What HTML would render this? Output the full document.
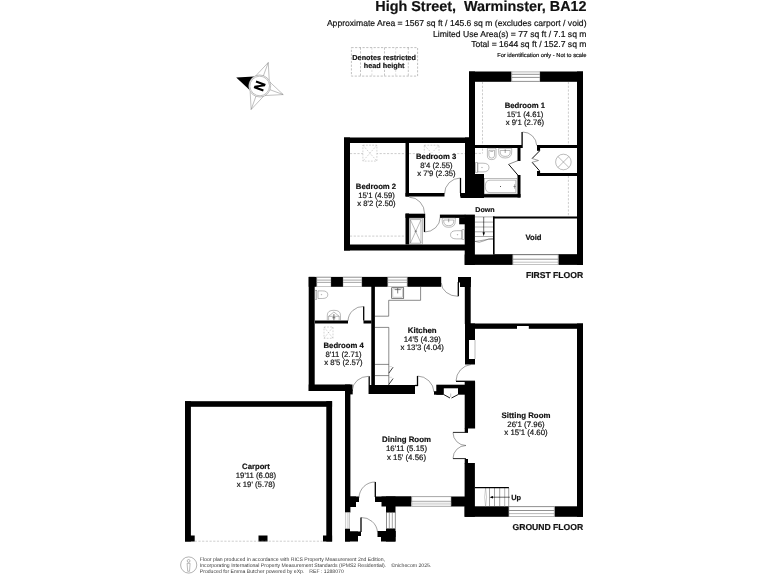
<!DOCTYPE html>
<html>
<head>
<meta charset="utf-8">
<title>High Street, Warminster, BA12 - Floor Plan</title>
<style>
html,body{margin:0;padding:0;background:#fff;width:768px;height:576px;overflow:hidden}
svg{display:block;position:absolute;left:0;top:0;will-change:transform}
text{font-family:"Liberation Sans",sans-serif;fill:#111;text-rendering:geometricPrecision;stroke:#111;stroke-width:0.18px}
.b{font-weight:bold}
.lab{font-size:7.72px;text-anchor:middle}
.w{fill:#000}
.t{fill:none;stroke:#6a6a6a;stroke-width:0.45}
.d{fill:none;stroke:#9a9a9a;stroke-width:0.5;stroke-dasharray:2.2 1.5}
.door{fill:none;stroke:#3a3a3a;stroke-width:0.48}
.leaf{fill:none;stroke:#000;stroke-width:1.3}
.win{fill:#fff;stroke:#444;stroke-width:0.6}
.wl{stroke:#666;stroke-width:0.6}
.bg{fill:#fff}
</style>
</head>
<body>
<svg width="768" height="576" viewBox="0 0 768 576">
<rect x="0" y="0" width="768" height="576" fill="#fff"/>

<!-- ================= HEADER ================= -->
<g id="header">
<text class="b" x="586.5" y="11" font-size="14.38" text-anchor="end" xml:space="preserve">High Street,  Warminster, BA12</text>
<text x="586.5" y="26" font-size="8.6" text-anchor="end">Approximate Area = 1567 sq ft / 145.6 sq m (excludes carport / void)</text>
<text x="586.5" y="36.5" font-size="8.6" text-anchor="end">Limited Use Area(s) = 77 sq ft / 7.1 sq m</text>
<text x="586.5" y="47" font-size="8.6" text-anchor="end">Total = 1644 sq ft / 152.7 sq m</text>
<text x="586.5" y="56.5" font-size="5.73" text-anchor="end">For identification only - Not to scale</text>
</g>

<!-- ================= LEGEND ================= -->
<g id="legend">
<rect class="d" x="351.400" y="47.600" width="66.200" height="28.500" style="stroke:#808080"/>
<path class="d" style="stroke:#8a8a8a" d="M360.500 47.600V76.100M384.500 47.600V76.100M408.300 47.600V76.100"/>
<path class="d" style="stroke:#bbb" d="M371.900 47.600V76.100M395.700 47.600V76.100"/>
<text class="b" x="384.200" y="60" font-size="7.250" text-anchor="middle">Denotes restricted</text>
<text class="b" x="384.200" y="68.200" font-size="7.250" text-anchor="middle">head height</text>
</g>

<!-- ================= COMPASS ================= -->
<g id="compass" transform="translate(259.7 86) rotate(-70)">
<g fill="#fff" stroke="#808080" stroke-width="0.45">
<path d="M0 -25L7.1 -8.4L-7.1 -8.4Z" transform="rotate(90)"/>
<path d="M0 -25L7.1 -8.4L-7.1 -8.4Z" transform="rotate(180)"/>
<path d="M0 -25L7.1 -8.4L-7.1 -8.4Z" transform="rotate(270)"/>
<path d="M0 -25V-10" transform="rotate(90)"/>
<path d="M0 -25V-10" transform="rotate(180)"/>
<path d="M0 -25V-10" transform="rotate(270)"/>
</g>
<path d="M0 -25L7.1 -8.4L-7.1 -8.4Z" fill="#000"/>
<circle r="11" fill="#fff" stroke="#808080" stroke-width="0.45"/>
<circle r="9.8" fill="#fff" stroke="#808080" stroke-width="0.45"/>
<path d="M-4 5V-5H-1.500L1.900 1.500V-5H4V5H1.500L-1.900 -1.500V5Z" fill="#000"/>
</g>

<!-- ================= FIRST FLOOR ================= -->
<g id="first-floor">
<!-- dashed restricted head height lines -->
<path class="d" d="M482.500 82V153.400M568.400 82V145M568.400 176V216.500M475 153.400H482.500"/>
<path class="d" d="M350 153.600H405.500M350 236.100H405.500M409 153.600H465"/>
<g style="stroke:#a0a0a0;stroke-width:0.45;stroke-dasharray:1.8 1.3"><rect class="d" x="362.900" y="145.200" width="14" height="15.900" style="fill:#fff;stroke:#a0a0a0;stroke-width:0.45;stroke-dasharray:1.8 1.3"/>
<path class="d" style="stroke:#a0a0a0;stroke-width:0.45;stroke-dasharray:1.8 1.3" d="M362.900 145.200L376.900 161.100M376.900 145.200L362.900 161.100"/></g>
<rect class="d" x="424.300" y="145.200" width="14.700" height="15.900" style="fill:#fff;stroke:#a0a0a0;stroke-width:0.45;stroke-dasharray:1.8 1.3"/>
<path class="d" style="stroke:#a0a0a0;stroke-width:0.45;stroke-dasharray:1.8 1.3" d="M424.300 145.200L439 161.100M439 145.200L424.300 161.100"/>

<!-- outer walls: bedroom 1 block -->
<rect class="w" x="469" y="71.500" width="42.600" height="10.300"/>
<rect class="w" x="539.900" y="71.500" width="43.100" height="10.300"/>
<rect class="w" x="469" y="71.500" width="6" height="66.500"/>
<rect class="w" x="465" y="137.5" width="10" height="60.5"/>
<rect class="w" x="464.700" y="214.600" width="10.200" height="50.300"/>
<rect class="w" x="577" y="71.500" width="6" height="193.400"/>
<rect class="w" x="464.700" y="254.500" width="48.100" height="10.400"/>
<rect class="w" x="558.300" y="254.500" width="24.700" height="10.400"/>
<!-- bedroom 1 bottom wall -->
<rect class="w" x="475" y="145" width="47" height="3"/>
<rect class="w" x="537" y="145" width="40" height="3"/>
<!-- bathroom walls -->
<rect class="w" x="517.5" y="148" width="3" height="13"/>
<rect class="w" x="517.5" y="175" width="3" height="22.5"/>
<rect class="w" x="475" y="194" width="45.5" height="3.5"/>
<rect class="w" x="465" y="174" width="19" height="24"/>
<rect class="w" x="460.5" y="194" width="5" height="4"/>
<!-- cupboard -->
<rect class="w" x="537" y="148" width="3.100" height="2.800"/>
<rect class="w" x="537" y="171" width="3.100" height="5"/>
<rect class="w" x="537" y="173" width="40" height="3"/>
<!-- void -->
<rect class="w" x="493" y="216.5" width="84" height="2"/>
<rect class="w" x="493" y="216.5" width="1.6" height="38"/>
<rect x="493" y="254" width="84" height="0.900" fill="#222"/>
<!-- left block -->
<rect class="w" x="344" y="137.5" width="125" height="5.5"/>
<rect class="w" x="344" y="137.5" width="6" height="113"/>
<rect class="w" x="344" y="244.5" width="121" height="6"/>
<rect class="w" x="405.5" y="143" width="3.5" height="53.5"/>
<rect class="w" x="405.5" y="193" width="39" height="3.5"/>
<rect class="w" x="460" y="193" width="5" height="3.5"/>
<rect class="w" x="405.5" y="213.700" width="19.700" height="4.200"/>
<rect class="w" x="405.5" y="213.5" width="3.5" height="31"/>
<rect class="w" x="439.900" y="214.600" width="25.500" height="3.300"/>
<rect class="w" x="459.200" y="217.500" width="6" height="6.800"/>

<!-- windows -->
<rect x="511.600" y="71.400" width="28.300" height="10.400" fill="#fff"/>
<path d="M511.600 71.900H539.900" stroke="#bbb" stroke-width="1.100"/>
<path d="M511.600 74.300H539.900M511.600 77.400H539.900M511.600 81.400H539.900" stroke="#555" stroke-width="0.650"/>
<path d="M511.800 71.400V81.800M539.700 71.400V81.800" stroke="#888" stroke-width="0.400"/>
<rect x="512.800" y="254.400" width="45.500" height="10.500" fill="#fff"/>
<path d="M512.800 254.700H558.300M512.800 259.200H558.300" stroke="#555" stroke-width="0.650"/>
<path d="M512.800 262.200H558.300M512.800 264.500H558.300" stroke="#999" stroke-width="0.600"/>
<path d="M513 254.400V264.900M558.100 254.400V264.900" stroke="#888" stroke-width="0.400"/>

<!-- doors -->
<path class="leaf" d="M522.100 148V132"/>
<path class="door" d="M522.700 132A14 14 0 0 1 536.700 145.500"/>
<path class="leaf" d="M460.5 193V178"/>
<path class="door" d="M460.5 178A16 16 0 0 0 444.5 194"/>
<path class="door" d="M409.300 197.200A15.500 16.500 0 0 1 424.600 213.700"/>
<path class="leaf" d="M424.500 217.500V232"/>
<path class="door" d="M440.100 217.500A15.600 14.500 0 0 1 424.500 232"/>
<!-- bathroom door (open) -->
<path d="M508.600 164.300L518.800 176.200" fill="none" stroke="#000" stroke-width="0.950"/>
<path d="M508.600 164.300L518.500 160.400" fill="none" stroke="#333" stroke-width="0.550"/>
<!-- cupboard bifold -->
<path d="M539.600 150.900L532.100 158.500M532.100 162.300L539.600 170.900" fill="none" stroke="#000" stroke-width="0.950"/>
<path d="M532.100 158.500L538.500 160.500L532.100 162.300" fill="none" stroke="#444" stroke-width="0.500"/>

<!-- cylinder -->
<circle class="t" cx="563.400" cy="162" r="7.800" fill="#fff"/>
<path class="t" d="M557.900 156.500L568.900 167.500M568.900 156.500L557.900 167.500"/>

<!-- bathroom fixtures -->
<g class="t">
<!-- bidet -->
<path d="M487.400 148.300H496V156Q496 159.600 491.700 159.600Q487.400 159.600 487.400 156Z"/>
<path d="M488.900 150.300H494.500V155.500Q494.500 158.100 491.700 158.100Q488.900 158.100 488.900 155.500Z"/>
<path d="M490.300 151.500H493.100" />
<!-- basin -->
<path d="M498.700 148.300H511.700V152Q511.700 158 505.200 158Q498.700 158 498.700 152Z"/>
<path d="M500.200 150.500H510.200V152Q510.200 156.400 505.200 156.400Q500.200 156.400 500.200 152Z"/>
<path d="M505.200 149.300V153" stroke="#333"/>
<!-- wc -->
<rect x="475.300" y="162.800" width="2.500" height="9.400"/>
<path d="M477.800 163.200H483Q489 163.200 489 167.500Q489 171.900 483 171.900H477.800Z"/>
<circle cx="482" cy="167.500" r="0.300"/>
<!-- bath -->
<rect x="484.300" y="178.500" width="32.800" height="15.500"/>
<path d="M490 180.200H515.800V192.600H490Q485.300 192.600 485.300 186.400Q485.300 180.200 490 180.200Z"/>
<circle cx="500.500" cy="186.500" r="0.500" fill="#222" stroke="none"/>
<path d="M514.600 184.300V188.700M513.300 186.500H515.800" stroke="#444"/>
</g>

<!-- ensuite fixtures -->
<g class="t">
<rect x="409.200" y="218.500" width="13.300" height="25.900"/>
<rect x="410.400" y="219.800" width="10.600" height="23.300"/>
<path d="M410.400 219.800L421 243.100M421 219.800L410.400 243.100"/>
<circle cx="415.700" cy="231.300" r="0.800" fill="#888"/>
<!-- basin -->
<path d="M442.200 218H455.300V221Q455.300 227.300 448.700 227.300Q442.200 227.300 442.200 221Z"/>
<path d="M443.700 220H453.800V221Q453.800 225.700 448.700 225.700Q443.700 225.700 443.700 221Z"/>
<path d="M448.700 218.700V222.200" stroke="#333"/>
<!-- wc -->
<rect x="462" y="229.800" width="2.700" height="9.700"/>
<path d="M462 230.700H456.500Q450.500 230.700 450.500 234.800Q450.500 238.900 456.500 238.900H462Z"/>
<circle cx="457.500" cy="234.800" r="0.300"/>
</g>

<!-- stairs -->
<g fill="none" stroke="#555" stroke-width="0.500">
<path d="M475 216.900H493M475 222.100H493M475 231.800H493M475 236.500H493"/>
<path d="M475 227H493" stroke="#aaa" stroke-width="0.900"/>
<path d="M475 241.400Q479 243.500 484 240.800T493 238.400" />
<path d="M475 241.400Q479 241 484 240T493 239.400" />
</g>
<path d="M483.700 217V234" stroke="#000" stroke-width="0.600" fill="none"/>
<path d="M483.700 236.300L482.500 232.300H484.900Z" fill="#000"/>

<!-- labels -->
<text class="b lab" x="524.800" y="107.500">Bedroom 1</text>
<text class="lab" x="525" y="116.5">15'1 (4.61)</text>
<text class="lab" x="525" y="125.1">x 9'1 (2.76)</text>

<rect class="bg" x="415.500" y="152.600" width="41.500" height="25.500"/>
<text class="b lab" x="436.200" y="158.600">Bedroom 3</text>
<text class="lab" x="436.500" y="167.6">8'4 (2.55)</text>
<text class="lab" x="436.500" y="176.2">x 7'9 (2.35)</text>

<text class="b lab" x="376" y="188.800">Bedroom 2</text>
<text class="lab" x="376.500" y="197.8">15'1 (4.59)</text>
<text class="lab" x="376.500" y="206.4">x 8'2 (2.50)</text>

<text class="b" x="475.300" y="212.400" font-size="7.100">Down</text>
<text class="b lab" x="533.500" y="239.500">Void</text>
<text class="b" x="583.200" y="278.100" font-size="8.600" text-anchor="end">FIRST FLOOR</text>
</g>

<!-- ================= GROUND FLOOR ================= -->
<g id="ground-floor">
<!-- top wall -->
<rect class="w" x="308.700" y="276.900" width="132.500" height="9.900"/>
<rect class="w" x="458" y="277" width="12.800" height="5.500"/>
<rect class="w" x="460" y="277" width="10.800" height="10"/>
<rect class="w" x="308.700" y="276.900" width="6" height="114.100"/>
<rect class="w" x="464.800" y="277" width="5.900" height="47"/>
<!-- wc / bed 4 divider -->
<rect class="w" x="315" y="320.500" width="33" height="3"/>
<rect class="w" x="363.500" y="320.500" width="8" height="3"/>
<!-- kitchen / bed4 wall -->
<rect class="w" x="371.300" y="286" width="3.600" height="108"/>
<!-- bed 4 bottom -->
<rect class="w" x="308.700" y="384.500" width="43.800" height="6.500"/>
<!-- dining left wall -->
<rect class="w" x="345" y="384.500" width="5.400" height="128"/>
<rect class="w" x="350" y="389.400" width="2.700" height="5"/>
<!-- kitchen bottom -->
<rect class="w" x="369" y="385" width="46" height="9"/>
<rect class="w" x="436.300" y="384.700" width="38.700" height="10"/>
<rect class="w" x="434" y="391.200" width="10" height="3.500"/>
<!-- sitting room -->
<rect class="w" x="465" y="323.500" width="118" height="5.300"/>
<rect class="w" x="465" y="323.500" width="10" height="41"/>
<rect class="w" x="464.700" y="381.500" width="10.400" height="47"/>
<rect class="w" x="464.700" y="428" width="3.300" height="4.600"/>
<rect class="w" x="464.700" y="459" width="3.300" height="4.500"/>
<rect class="w" x="464.600" y="463" width="10.300" height="53.800"/>
<rect class="w" x="577" y="323.500" width="6" height="193.300"/>
<rect class="w" x="464.600" y="506.300" width="44.300" height="10.500"/>
<rect class="w" x="554.400" y="506.300" width="28.600" height="10.500"/>
<!-- dining bottom -->
<rect class="w" x="375" y="496.500" width="36.500" height="5.500"/>
<rect class="w" x="381.500" y="496.500" width="30" height="10"/>
<rect class="w" x="451" y="496.500" width="14" height="10"/>
<rect class="w" x="345" y="496.500" width="14" height="5.500"/>
<rect class="w" x="345" y="496.500" width="11" height="10.500"/>
<!-- porch -->
<rect class="w" x="386" y="496.500" width="9.500" height="16"/>
<rect class="w" x="345" y="528.500" width="5" height="13"/>
<rect class="w" x="345" y="531.500" width="16" height="4.500"/>
<rect class="w" x="345" y="531.500" width="13" height="10"/>
<rect class="w" x="386" y="528.500" width="9.500" height="13"/>
<rect class="w" x="377.500" y="531" width="18" height="6"/>
<rect class="w" x="381" y="531" width="14.500" height="10.500"/>

<!-- niches -->
<rect x="517" y="326" width="11.800" height="3" fill="#fff"/>
<rect x="469" y="340" width="6.500" height="19" fill="#fff"/>
<path class="t" d="M475 340V359"/>
<!-- cupboard in kitchen bottom wall -->
<rect x="443.800" y="388.300" width="14.200" height="7" fill="#fff"/>
<path d="M443.800 394.600L450 398M458 394.600L451.500 398" stroke="#000" stroke-width="0.900" fill="none"/>
<path class="t" d="M450.700 393.500V397"/>

<!-- windows -->
<g>
<rect x="316.7" y="276.900" width="14.3" height="9.900" fill="#fff"/>
<path d="M316.7 277.400H331.0M316.7 280.100H331.0M316.7 282.400H331.0" stroke="#6a6a6a" stroke-width="0.600"/>
<path d="M316.7 286.500H331.0" stroke="#c4c4c4" stroke-width="0.900"/>
<path d="M316.9 277V286.800M330.8 277V286.800" stroke="#999" stroke-width="0.400"/>
<rect x="343.0" y="276.900" width="18.9" height="9.900" fill="#fff"/>
<path d="M343.0 277.400H361.9M343.0 280.100H361.9M343.0 282.400H361.9" stroke="#6a6a6a" stroke-width="0.600"/>
<path d="M343.0 286.500H361.9" stroke="#c4c4c4" stroke-width="0.900"/>
<path d="M343.2 277V286.800M361.7 277V286.800" stroke="#999" stroke-width="0.400"/>
<rect x="387.7" y="276.900" width="19.6" height="9.900" fill="#fff"/>
<path d="M387.7 277.400H407.3M387.7 280.100H407.3M387.7 282.400H407.3" stroke="#6a6a6a" stroke-width="0.600"/>
<path d="M387.7 286.500H407.3" stroke="#c4c4c4" stroke-width="0.900"/>
<path d="M387.9 277V286.800M407.1 277V286.800" stroke="#999" stroke-width="0.400"/>
<rect x="411.700" y="496.400" width="39.400" height="10.100" fill="#fff"/>
<rect x="411.700" y="502.600" width="39.400" height="2.200" fill="#dcdcdc"/>
<path d="M411.700 496.600H451.100M411.700 501.300H451.100M411.700 506.300H451.100" stroke="#6a6a6a" stroke-width="0.600"/>
<path d="M411.900 496.400V506.500M450.900 496.400V506.500" stroke="#999" stroke-width="0.400"/>
<rect x="508.900" y="506.300" width="45.500" height="10.500" fill="#fff"/>
<path d="M508.900 506.600H554.400M508.900 510.500H554.400" stroke="#555" stroke-width="0.650"/>
<path d="M508.900 513.600H554.400M508.900 516.500H554.400" stroke="#888" stroke-width="0.600"/>
<path d="M509.100 506.300V516.800M554.200 506.300V516.800" stroke="#999" stroke-width="0.400"/>
<rect x="345.200" y="512.500" width="4.600" height="16" fill="#fff" stroke="#888" stroke-width="0.400"/>
<path d="M347.300 512.500V528.500M348.900 512.500V528.500" stroke="#999" stroke-width="0.400"/>
<rect class="win" x="386.300" y="512.500" width="8.900" height="16"/>
<path class="wl" d="M389.300 512.500V528.500M392.300 512.500V528.500"/>
</g>

<!-- doors -->
<path class="leaf" d="M458.300 282V296.300"/>
<path class="door" d="M441.300 283A16.700 13.500 0 0 0 458 296.300"/>
<path class="leaf" d="M363.700 306.500V320.500"/>
<path class="door" d="M363.700 306.500A15 15 0 0 0 348 321"/>
<path class="leaf" d="M369.200 376.300V394"/>
<path class="door" d="M368.600 376.300A16.300 14.500 0 0 0 352.300 390.500"/>
<path class="leaf" d="M417.500 376V386"/>
<path class="leaf" d="M415 385.500H418"/>
<path class="door" d="M417.500 376A17 17 0 0 1 434 392"/>
<!-- sitting/kitchen door -->
<path class="leaf" d="M456 381.300H475"/>
<path class="door" d="M456 381A17 17 0 0 1 471 364.500"/>
<!-- double doors -->
<path d="M468 432.400H453M466 458.600H453" stroke="#111" stroke-width="0.900" fill="none"/>
<path class="door" d="M453 432.500A13 13 0 0 0 466 445.500A13 13 0 0 0 453 458.500"/>
<!-- front doors -->
<path class="leaf" d="M375.300 482V497"/>
<path class="door" d="M375.300 482A16 16 0 0 0 359 498"/>
<path class="leaf" d="M361 517.500V532"/>
<path class="door" d="M361 517.500A16 16 0 0 1 377.500 532"/>

<!-- WC room fixtures -->
<g class="t">
<rect x="315" y="290.200" width="1.800" height="9.200"/>
<path d="M318 290.900H322.500Q327.800 290.900 327.800 294.700Q327.800 298.500 322.500 298.500H318Z"/>
<circle cx="321.500" cy="294.700" r="0.300"/>
<path d="M327.300 320.400V315.200Q327.300 310.300 333.900 310.300Q340.500 310.300 340.500 315.200V320.400"/>
<path d="M328.600 320.400V316.300L333.900 312L339.200 316.300V320.400"/>
<path d="M328.600 316.300H339.200"/>
<path d="M333.900 314V320.400M332.400 317.800H335.400" stroke="#222" stroke-width="0.600"/>
</g>
<!-- bed4 skylight -->
<g fill="none" stroke="#a0a0a0" stroke-width="0.450" stroke-dasharray="1.800 1.300">
<rect x="324" y="327" width="9" height="11.300"/>
<path d="M324 327L333 338.300M333 327L324 338.300"/>
</g>

<!-- kitchen units -->
<g fill="none" stroke="#2a2a2a" stroke-width="0.550">
<path d="M375 316.200H388.700V300.300H420.600V287"/>
<path d="M375 327.400H388.800V385.200"/>
<path d="M375 364.400H388.800M375 375.600H388.800"/>
<path d="M388.800 366.500H392M388.800 377.300H392" stroke="#aaa" stroke-width="0.400"/>
</g>
<rect x="391.700" y="287.700" width="12" height="10.600" fill="#fff" stroke="#444" stroke-width="0.700"/>
<rect x="392.900" y="288.900" width="9.600" height="8.200" fill="none" stroke="#888" stroke-width="0.400"/>
<path d="M397.700 288V293.400M394.700 289.600H400.700" stroke="#333" stroke-width="0.600" fill="none"/>
<path d="M388.800 373.200L393.100 367.200M388.800 384.500L393.100 378.500" stroke="#000" stroke-width="0.750" fill="none"/>

<!-- stairs up -->
<g fill="none" stroke="#444" stroke-width="0.500">
<path d="M489.500 488V506.300M494.500 488V506.300M499.700 488V506.300M508.700 488V506.300"/>
<path d="M504.700 488V506.300" stroke="#aaa" stroke-width="0.900"/>
<path d="M485.600 488Q483.600 497 485.600 506.300Q487.600 497 485.600 488" stroke="#888" stroke-width="0.400"/>
</g>
<path d="M475 487.600H508.900" stroke="#000" stroke-width="1.300" fill="none"/>
<path d="M491 497.200H509.800" stroke="#000" stroke-width="0.600"/>
<path d="M489.600 497.200L493 496V498.400Z" fill="#000"/>

<!-- labels -->
<text class="b lab" style="font-size:7.85px" x="422.200" y="332.800">Kitchen</text>
<text class="lab" style="font-size:7.85px" x="422.300" y="341.8">14'5 (4.39)</text>
<text class="lab" style="font-size:7.85px" x="422.300" y="350.4">x 13'3 (4.04)</text>

<text class="b lab" x="343.700" y="347.800">Bedroom 4</text>
<text class="lab" x="343.500" y="356.8">8'11 (2.71)</text>
<text class="lab" x="343.500" y="365.4">x 8'5 (2.57)</text>

<text class="b lab" style="font-size:7.85px" x="526" y="417.500">Sitting Room</text>
<text class="lab" style="font-size:7.85px" x="526" y="426.5">26'1 (7.96)</text>
<text class="lab" style="font-size:7.85px" x="526" y="435.1">x 15'1 (4.60)</text>

<text class="b lab" style="font-size:7.85px" x="406.500" y="442">Dining Room</text>
<text class="lab" style="font-size:7.85px" x="406.500" y="451.0">16'11 (5.15)</text>
<text class="lab" style="font-size:7.85px" x="406.500" y="459.6">x 15' (4.56)</text>

<text class="b" x="511.200" y="499.600" font-size="7.400">Up</text>
<text class="b" x="583.200" y="529.800" font-size="8.600" text-anchor="end">GROUND FLOOR</text>
</g>

<!-- ================= CARPORT ================= -->
<g id="carport">
<rect class="w" x="185" y="401.200" width="147.100" height="5.600"/>
<rect class="w" x="185" y="401.200" width="5.900" height="140.300"/>
<rect class="w" x="326.300" y="401.100" width="5.800" height="140.400"/>
<rect class="w" x="185" y="535.500" width="9.700" height="6"/>
<rect class="w" x="258.500" y="535.500" width="9" height="6"/>
<rect class="w" x="323" y="535.500" width="9.100" height="6"/>
<path class="d" d="M194.700 541.200H323"/>
<text class="b lab" x="256" y="469">Carport</text>
<text class="lab" x="256" y="478.0">19'11 (6.08)</text>
<text class="lab" x="256" y="486.6">x 19' (5.78)</text>
</g>

<!-- ================= FOOTER ================= -->
<g id="footer" style="stroke:none">
<circle cx="188.700" cy="565" r="8.100" fill="#fff" stroke="#666" stroke-width="0.500"/>
<circle cx="188.600" cy="560.900" r="1.400" fill="none" stroke="#666" stroke-width="0.450"/>
<path d="M187.100 563.300H190.100L189.500 571.300H187.700Z" fill="none" stroke="#666" stroke-width="0.450"/>
<text x="199.800" y="561" font-size="5.140" style="fill:#3c3c3c;stroke:none">Floor plan produced in accordance with RICS Property Measurement 2nd Edition,</text>
<text x="199.800" y="567.100" font-size="5.140" style="fill:#3c3c3c;stroke:none">Incorporating International Property Measurement Standards (IPMS2 Residential).</text>
<text x="391.300" y="567.100" font-size="5.140" style="fill:#3c3c3c;stroke:none">©nichecom 2025.</text>
<text x="199.800" y="573.200" font-size="5.140" style="fill:#3c3c3c;stroke:none">Produced for Emma Butcher powered by eXp.</text>
<text x="309.300" y="573.200" font-size="5.140" style="fill:#3c3c3c;stroke:none">REF : 1288070</text>
</g>
</svg>
</body>
</html>
